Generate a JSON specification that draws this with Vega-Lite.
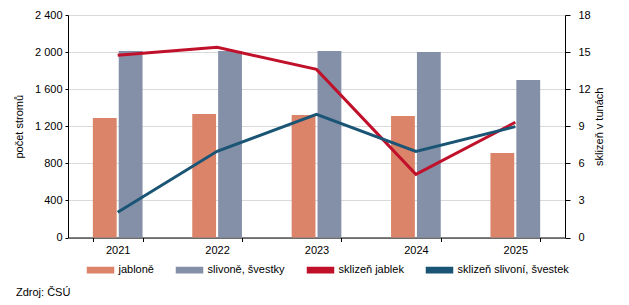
{
  "$schema": "https://vega.github.io/schema/vega-lite/v6.json",
  "width": 497,
  "height": 222.5,
  "autosize": {"type": "none"},
  "padding": {"left": 68, "top": 15, "right": 64, "bottom": 67.5},
  "background": "white",
  "config": {
    "font": "Liberation Sans",
    "view": {"stroke": null},
    "axis": {
      "labelFontSize": 11,
      "labelColor": "#000",
      "titleFontSize": 11,
      "titleFontWeight": "normal",
      "titleColor": "#000",
      "domainColor": "#000",
      "tickColor": "#000"
    }
  },
  "datasets": {
    "bars": [
      {"year": "2021", "series": "jabloně", "value": 1289},
      {"year": "2022", "series": "jabloně", "value": 1332},
      {"year": "2023", "series": "jabloně", "value": 1321},
      {"year": "2024", "series": "jabloně", "value": 1311},
      {"year": "2025", "series": "jabloně", "value": 911},
      {"year": "2021", "series": "slivoně, švestky", "value": 2012},
      {"year": "2022", "series": "slivoně, švestky", "value": 2012},
      {"year": "2023", "series": "slivoně, švestky", "value": 2012},
      {"year": "2024", "series": "slivoně, švestky", "value": 2001},
      {"year": "2025", "series": "slivoně, švestky", "value": 1699}
    ],
    "lines": [
      {"year": "2021", "series": "sklizeň jablek", "value": 14.74},
      {"year": "2022", "series": "sklizeň jablek", "value": 15.39},
      {"year": "2023", "series": "sklizeň jablek", "value": 13.6},
      {"year": "2024", "series": "sklizeň jablek", "value": 5.11},
      {"year": "2025", "series": "sklizeň jablek", "value": 9.32},
      {"year": "2021", "series": "sklizeň slivoní, švestek", "value": 2.04},
      {"year": "2022", "series": "sklizeň slivoní, švestek", "value": 6.97},
      {"year": "2023", "series": "sklizeň slivoní, švestek", "value": 9.97},
      {"year": "2024", "series": "sklizeň slivoní, švestek", "value": 6.97},
      {"year": "2025", "series": "sklizeň slivoní, švestek", "value": 8.97}
    ]
  },
  "title": {
    "text": "Zdroj: ČSÚ",
    "orient": "bottom",
    "anchor": "start",
    "frame": "group",
    "font": "Liberation Sans",
    "fontSize": 11,
    "fontWeight": "normal",
    "color": "#000",
    "dx": -52,
    "offset": 11
  },
  "layer": [
    {
      "data": {"name": "bars"},
      "mark": {"type": "bar"},
      "encoding": {
        "x": {
          "field": "year",
          "type": "ordinal",
          "scale": {"paddingInner": 0.5, "paddingOuter": 0.25},
          "axis": {
            "title": null,
            "labelAngle": 0,
            "tickBand": "extent",
            "tickSize": 4,
            "labelPadding": 3,
            "grid": false
          }
        },
        "xOffset": {
          "field": "series",
          "type": "nominal",
          "sort": ["jabloně", "slivoně, švestky"],
          "scale": {"paddingInner": 0.08}
        },
        "y": {
          "field": "value",
          "type": "quantitative",
          "scale": {"domain": [0, 2400], "nice": false},
          "axis": {
            "title": "počet stromů",
            "values": [0, 400, 800, 1200, 1600, 2000, 2400],
            "labelExpr": "replace(format(datum.value, ','), ',', ' ')",
            "tickSize": 3,
            "grid": true,
            "gridColor": "#d9d9d9",
            "labelPadding": 3,
            "titlePadding": 10
          }
        },
        "color": {
          "field": "series",
          "type": "nominal",
          "scale": {
            "domain": ["jabloně", "slivoně, švestky", "sklizeň jablek", "sklizeň slivoní, švestek"],
            "range": ["#DB8469", "#8490A8", "#C0102A", "#1B5575"]
          },
          "legend": {
            "orient": "none",
            "legendX": 18.5,
            "legendY": 241,
            "direction": "horizontal",
            "title": null,
            "symbolType": "M-1,-0.2H1V0.2H-1Z",
            "symbolSize": 676,
            "labelFontSize": 11,
            "labelColor": "#000",
            "columnPadding": 19,
            "labelOffset": 4,
            "padding": 0,
            "encode": {
              "symbols": {
                "update": {
                  "fill": {"scale": "color", "field": "value"},
                  "stroke": {"value": "transparent"}
                }
              }
            }
          }
        }
      }
    },
    {
      "data": {"name": "lines"},
      "mark": {"type": "line", "strokeWidth": 3},
      "encoding": {
        "x": {"field": "year", "type": "ordinal"},
        "y": {
          "field": "value",
          "type": "quantitative",
          "scale": {"domain": [0, 18], "nice": false},
          "axis": {
            "orient": "right",
            "title": "sklizeň v tunách",
            "titleAngle": 270,
            "values": [0, 3, 6, 9, 12, 15, 18],
            "tickSize": 5,
            "grid": false,
            "labelPadding": 8,
            "titlePadding": 14
          }
        },
        "color": {"field": "series", "type": "nominal"}
      }
    }
  ],
  "resolve": {"scale": {"y": "independent"}}
}
